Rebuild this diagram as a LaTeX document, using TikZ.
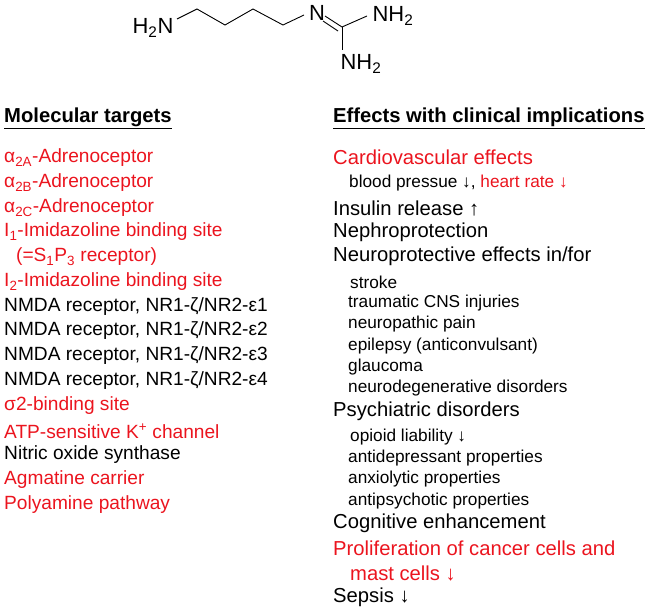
\documentclass[tikz,border=0pt]{standalone}
\usepackage{fontspec}
\setmainfont{Liberation Sans}
\definecolor{tred}{RGB}{235,20,30}
\begin{document}
\begin{tikzpicture}[x=1bp,y=-1bp,
  big/.style={anchor=west,inner sep=0pt,font=\fontsize{20.3}{20}\selectfont},
  lt/.style={anchor=west,inner sep=0pt,font=\fontsize{19.2}{19}\selectfont},
  sm/.style={anchor=west,inner sep=0pt,font=\fontsize{17.3}{17}\selectfont},
  hd/.style={anchor=west,inner sep=0pt,font=\fontsize{20.3}{20}\selectfont\bfseries},
  mol/.style={anchor=center,inner sep=0pt,font=\fontsize{22}{22}\selectfont},
  rd/.style={text=tred},
  bond/.style={line width=0.9bp}]
\useasboundingbox (0,0) rectangle (649,609);
% molecule
\node[mol] (n1) at (153,28) {H\textsubscript{2}N};
\node[mol] (n2) at (317,13) {N};
\node[mol] (n3) at (393,16) {NH\textsubscript{2}};
\node[mol] (n4) at (361,64) {NH\textsubscript{2}};
\coordinate (c0) at (342,27);
\draw[bond] (177,19) -- (197,9) -- (225,25) -- (253,9) -- (283,25) -- (304,15);
\draw[bond] (325,16) -- (342,27);
\draw[bond] (323,21) -- (338,31);
\draw[bond] (c0) -- (367,16);
\draw[bond] (c0) -- (342,50);
% headers
\node[hd] (h1) at (4,118) {\underline{Molecular targets}};
\node[hd] (h2) at (333,118) {\underline{Effects with clinical implications}};
% left
\node[lt,rd] (l1) at (4,158) {α\textsubscript{2A}-Adrenoceptor};
\node[lt,rd] (l2) at (4,183) {α\textsubscript{2B}-Adrenoceptor};
\node[lt,rd] (l3) at (4,208) {α\textsubscript{2C}-Adrenoceptor};
\node[lt,rd] (l4) at (4,232) {I\textsubscript{1}-Imidazoline binding site};
\node[lt,rd] (l5) at (16,257) {(=S\textsubscript{1}P\textsubscript{3} receptor)};
\node[lt,rd] (l6) at (4,282) {I\textsubscript{2}-Imidazoline binding site};
\node[lt] (l7) at (4,307) {NMDA receptor, NR1-ζ/NR2-ε1};
\node[lt] (l8) at (4,331) {NMDA receptor, NR1-ζ/NR2-ε2};
\node[lt] (l9) at (4,356) {NMDA receptor, NR1-ζ/NR2-ε3};
\node[lt] (l10) at (4,381) {NMDA receptor, NR1-ζ/NR2-ε4};
\node[lt,rd] (l11) at (4,406) {σ2-binding site};
\node[lt,rd] (l12) at (4,431) {ATP-sensitive K\textsuperscript{+} channel};
\node[lt] (l13) at (4,455) {Nitric oxide synthase};
\node[lt,rd] (l14) at (4,480) {Agmatine carrier};
\node[lt,rd] (l15) at (4,505) {Polyamine pathway};
% right
\node[big,rd] (r1) at (333,157) {Cardiovascular effects};
\node[sm] (r2) at (349,183) {blood pressue ↓, \textcolor{tred}{heart rate ↓}};
\node[big] (r3) at (333,208) {Insulin release ↑};
\node[big] (r4) at (333,232) {Nephroprotection};
\node[big] (r5) at (333,256) {Neuroprotective effects in/for};
\node[sm] (r6) at (350,282) {stroke};
\node[sm] (r7) at (348,303) {traumatic CNS injuries};
\node[sm] (r8) at (348,324) {neuropathic pain};
\node[sm] (r9) at (348,346) {epilepsy (anticonvulsant)};
\node[sm] (r10) at (348,367) {glaucoma};
\node[sm] (r11) at (348,388) {neurodegenerative disorders};
\node[big] (r12) at (333,411) {Psychiatric disorders};
\node[sm] (r13) at (350,437) {opioid liability ↓};
\node[sm] (r14) at (348,458) {antidepressant properties};
\node[sm] (r15) at (348,479) {anxiolytic properties};
\node[sm] (r16) at (348,501) {antipsychotic properties};
\node[big] (r17) at (333,523) {Cognitive enhancement};
\node[big,rd] (r18) at (333,548) {Proliferation of cancer cells and};
\node[big,rd] (r19) at (350,573) {mast cells ↓};
\node[big] (r20) at (333,597) {Sepsis ↓};
\end{tikzpicture}
\end{document}
